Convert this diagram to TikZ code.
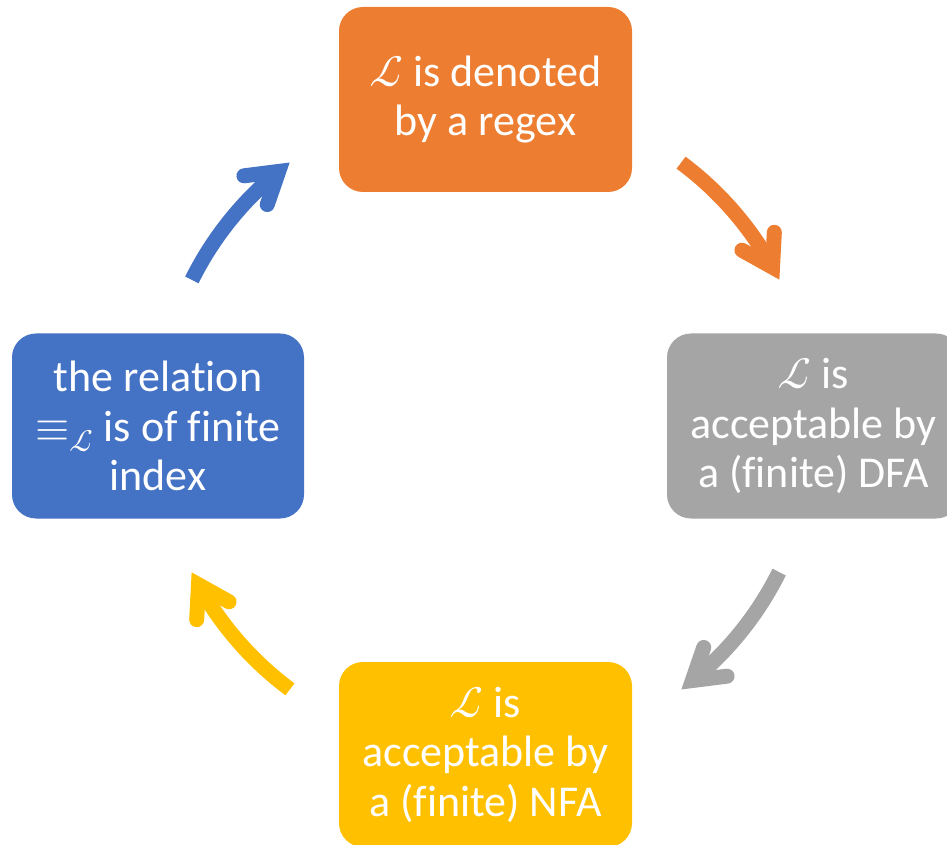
\documentclass[tikz,border=0pt]{standalone}
\usepackage{unicode-math}
\setmainfont{Carlito}[Ligatures=NoCommon]
\setmathfont{Latin Modern Math}
\usetikzlibrary{calc}
\definecolor{cOrange}{HTML}{ED7D31}
\definecolor{cGray}{HTML}{A5A5A5}
\definecolor{cYellow}{HTML}{FFC000}
\definecolor{cBlue}{HTML}{4472C4}
\tikzset{
  box/.style={rounded corners=24pt, minimum width=293pt, minimum height=185pt,
    inner sep=0pt, text=white, align=center,
    font=\fontsize{44}{49.5}\selectfont},
  shaft/.style={line width=15pt, line cap=butt},
  head/.style={line width=15pt, line cap=round, line join=miter}
}
\newcommand{\cycarrow}[4]{% colour, tail angle, vertex angle, name
  \coordinate (#4) at ($(c)+(#2:328pt)$);
  \draw[shaft, #1] (#4) arc[start angle=#2, end angle=#3, radius=328pt];
  \begin{scope}[shift={(c)}, rotate=#3]
    \draw[head, #1] (346.5,29.7) -- (328,0) -- (309.5,29.7);
  \end{scope}
}
\begin{document}
\begin{tikzpicture}[x=1pt,y=1pt]
\useasboundingbox (0,0) rectangle (947,844);
\clip (0,0) rectangle (947,844);
\coordinate (c) at (485.5,418);
\node[box, fill=cOrange] (regex) at (485.5,744.5) {$\mathcal{L}$ is denoted\\by a regex};
\node[box, fill=cGray] (dfa) at (813.5,418) {$\mathcal{L}$ is\\acceptable by\\a (finite) DFA};
\node[box, fill=cYellow] (nfa) at (485.5,89.5) {$\mathcal{L}$ is\\acceptable by\\a (finite) NFA};
\node[box, fill=cBlue, minimum width=292pt] (index) at (158,418) {the relation\\$\equiv_{\mathcal{L}}$ is of finite\\index};
\cycarrow{cOrange}{53.4}{28.95}{t1}
\cycarrow{cGray}{-26.45}{-50.9}{t2}
\cycarrow{cYellow}{-126.6}{-151.05}{t3}
\cycarrow{cBlue}{153.55}{129.1}{t4}
\end{tikzpicture}
\end{document}
